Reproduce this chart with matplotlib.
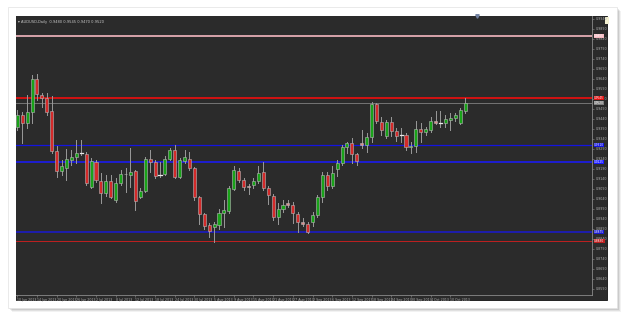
import matplotlib
matplotlib.use("Agg")
import matplotlib.pyplot as plt
from matplotlib.patches import Rectangle

# daily OHLC
opens = [0.9400, 0.9460, 0.9420, 0.9475, 0.9640, 0.9560, 0.9545, 0.9480, 0.9280, 0.9180,
         0.9195, 0.9235, 0.9250, 0.9270, 0.9265, 0.9100, 0.9225, 0.9130, 0.9070, 0.9130,
         0.9035, 0.9120, 0.9167, 0.9160, 0.9180, 0.9050, 0.9080, 0.9240, 0.9225, 0.9160,
         0.9165, 0.9240, 0.9285, 0.9150, 0.9230, 0.9240, 0.9195, 0.9050, 0.8965, 0.8910,
         0.8900, 0.8910, 0.8970, 0.8980, 0.9090, 0.9180, 0.9135, 0.9105, 0.9110, 0.9130,
         0.9175, 0.9095, 0.9055, 0.8950, 0.8990, 0.9020, 0.9010, 0.8965, 0.8925, 0.8915,
         0.8925, 0.8960, 0.9050, 0.9160, 0.9105, 0.9190, 0.9220, 0.9300, 0.9320, 0.9265,
         0.9320, 0.9310, 0.9350, 0.9515, 0.9425, 0.9355, 0.9425, 0.9380, 0.9360, 0.9360,
         0.9300, 0.9305, 0.9390, 0.9375, 0.9385, 0.9430, 0.9420, 0.9420, 0.9435, 0.9445,
         0.9420, 0.9480]
highs = [0.9485, 0.9475, 0.9560, 0.9660, 0.9665, 0.9570, 0.9570, 0.9555, 0.9305, 0.9235,
         0.9290, 0.9285, 0.9335, 0.9335, 0.9275, 0.9245, 0.9235, 0.9170, 0.9160, 0.9160,
         0.9145, 0.9185, 0.9195, 0.9295, 0.9185, 0.9095, 0.9250, 0.9285, 0.9235, 0.9225,
         0.9255, 0.9295, 0.9310, 0.9245, 0.9285, 0.9275, 0.9200, 0.9055, 0.8970, 0.8920,
         0.8925, 0.8990, 0.9035, 0.9105, 0.9205, 0.9195, 0.9145, 0.9115, 0.9145, 0.9205,
         0.9225, 0.9105, 0.9065, 0.9020, 0.9035, 0.9035, 0.9025, 0.8975, 0.8945, 0.8925,
         0.8975, 0.9060, 0.9175, 0.9175, 0.9205, 0.9235, 0.9310, 0.9325, 0.9345, 0.9270,
         0.9385, 0.9370, 0.9525, 0.9520, 0.9450, 0.9435, 0.9450, 0.9395, 0.9395, 0.9370,
         0.9325, 0.9430, 0.9420, 0.9400, 0.9450, 0.9480, 0.9480, 0.9460, 0.9470, 0.9470,
         0.9495, 0.9545]
lows = [0.9385, 0.9320, 0.9395, 0.9420, 0.9535, 0.9500, 0.9460, 0.9270, 0.9150, 0.9160,
        0.9135, 0.9210, 0.9220, 0.9260, 0.9110, 0.9095, 0.9125, 0.9020, 0.9055, 0.9045,
        0.9025, 0.9110, 0.9075, 0.9100, 0.8985, 0.9045, 0.9075, 0.9175, 0.9145, 0.9150,
        0.9160, 0.9235, 0.9145, 0.9145, 0.9220, 0.9185, 0.9035, 0.8915, 0.8890, 0.8850,
        0.8825, 0.8890, 0.8900, 0.8970, 0.9085, 0.9125, 0.9085, 0.9065, 0.9095, 0.9120,
        0.9085, 0.9015, 0.8935, 0.8915, 0.8975, 0.9000, 0.8920, 0.8875, 0.8905, 0.8870,
        0.8905, 0.8950, 0.9025, 0.9085, 0.9095, 0.9155, 0.9210, 0.9270, 0.9220, 0.9210,
        0.9295, 0.9275, 0.9325, 0.9420, 0.9360, 0.9345, 0.9355, 0.9330, 0.9325, 0.9285,
        0.9270, 0.9275, 0.9325, 0.9360, 0.9375, 0.9415, 0.9400, 0.9400, 0.9385, 0.9430,
        0.9415, 0.9470]
closes = [0.9460, 0.9420, 0.9475, 0.9640, 0.9565, 0.9545, 0.9475, 0.9280, 0.9180, 0.9205,
          0.9240, 0.9250, 0.9270, 0.9270, 0.9120, 0.9230, 0.9135, 0.9070, 0.9130, 0.9050,
          0.9120, 0.9165, 0.9163, 0.9175, 0.9030, 0.9080, 0.9240, 0.9225, 0.9155, 0.9160,
          0.9240, 0.9285, 0.9150, 0.9235, 0.9250, 0.9195, 0.9050, 0.8965, 0.8905, 0.8880,
          0.8915, 0.8970, 0.8985, 0.9095, 0.9185, 0.9135, 0.9100, 0.9100, 0.9130, 0.9170,
          0.9095, 0.9060, 0.8950, 0.8990, 0.9010, 0.9010, 0.8970, 0.8925, 0.8915, 0.8875,
          0.8960, 0.9050, 0.9160, 0.9105, 0.9170, 0.9220, 0.9300, 0.9320, 0.9265, 0.9230,
          0.9310, 0.9350, 0.9515, 0.9430, 0.9385, 0.9425, 0.9380, 0.9355, 0.9360, 0.9300,
          0.9305, 0.9390, 0.9375, 0.9390, 0.9430, 0.9420, 0.9420, 0.9440, 0.9445, 0.9460,
          0.9485, 0.9520]

date_labels = ["10 Jun 2013", "14 Jun 2013", "20 Jun 2013", "26 Jun 2013", "2 Jul 2013",
               "8 Jul 2013", "12 Jul 2013", "18 Jul 2013", "24 Jul 2013", "30 Jul 2013",
               "5 Aug 2013", "9 Aug 2013", "15 Aug 2013", "21 Aug 2013", "27 Aug 2013",
               "2 Sep 2013", "6 Sep 2013", "12 Sep 2013", "18 Sep 2013", "24 Sep 2013",
               "30 Sep 2013", "4 Oct 2013", "10 Oct 2013"]

# horizontal levels: (price, colour, width)
levels = [(0.9855, "#f4b8c0", 1.2),
          (0.9545, "#e01010", 1.3),
          (0.9520, "#808080", 0.6),
          (0.9310, "#1414e0", 0.9),
          (0.9225, "#1a1aff", 1.1),
          (0.8875, "#1a1ad0", 1.1),
          (0.8830, "#c02020", 0.7)]

W, H = 625, 317
fig = plt.figure(figsize=(W / 100, H / 100), dpi=100)
fig.patch.set_facecolor("white")


def px_rect(x0, y0, x1, y1, **kw):
    # rectangle in pixel coords (y from top), drawn below the axes
    r = Rectangle((x0 / W, 1 - y1 / H), (x1 - x0) / W, (y1 - y0) / H,
                  transform=fig.transFigure, zorder=-10, **kw)
    fig.patches.append(r)


# shadowed white frame
for i, a in enumerate([0.05, 0.07, 0.09, 0.12]):
    d = 4 - i
    px_rect(8 + d, 7 + d, 617 + d, 308 + d, facecolor="#000000", alpha=a, lw=0)
px_rect(8, 7, 617, 308, facecolor="white", edgecolor="#e6e6e6", lw=0.6)
# dark chart window
px_rect(16, 16, 607, 300, facecolor="#2b2b2b", edgecolor="#111111", lw=0.6)
px_rect(605, 17, 609, 24, facecolor="#f2efd0", lw=0)

ax = fig.add_axes([16 / W, 1 - 295 / H, (592 - 16) / W, (295 - 16) / H])
ax.set_facecolor("#2b2b2b")

n = len(opens)
xs = list(range(n))
bw = 0.62
for i in xs:
    o, h, l, c = opens[i], highs[i], lows[i], closes[i]
    ax.plot([i, i], [l, h], color="#9a9a9a", lw=0.7, zorder=2)
    if abs(c - o) < 0.00015:
        ax.plot([i - bw / 2, i + bw / 2], [o, o], color="#e8e8e8", lw=0.9, zorder=3)
        continue
    if c > o:
        fc = "#19a319"
    elif abs(c - o) < 0.0012:
        fc = "#e08a8a"
    else:
        fc = "#d42a2a"
    ax.add_patch(Rectangle((i - bw / 2, min(o, c)), bw, abs(c - o),
                           facecolor=fc, edgecolor="#b8b8b8", lw=0.4, zorder=3))

for price, col, lw in levels:
    ax.axhline(price, color=col, lw=lw, zorder=1)

ax.set_xlim(-0.26, 116.8)
ax.set_ylim(0.8560, 0.9955)

yt = [0.8590 + 0.005 * k for k in range(28)]
ax.yaxis.tick_right()
ax.set_yticks(yt)
ax.set_yticklabels([f"{v:.4f}" for v in yt], fontsize=2.3, color="#b0b0b0")
ax.tick_params(axis="y", length=1.5, width=0.4, color="#909090", pad=1.5)

ax.set_xticks(xs[::4][:len(date_labels)])
ax.set_xticklabels(date_labels, fontsize=2.3, color="#b0b0b0", ha="left")
ax.tick_params(axis="x", length=1.5, width=0.4, color="#909090", pad=0.8)

for s in ["top", "left"]:
    ax.spines[s].set_visible(False)
for s in ["right", "bottom"]:
    ax.spines[s].set_color("#8a8a8a")
    ax.spines[s].set_linewidth(0.6)

# coloured price tags on the price scale
for price, col, lw in levels:
    ax.annotate(f"{price:.4f}", xy=(1.0, price), xycoords=("axes fraction", "data"),
                xytext=(1.5, 0), textcoords="offset points", fontsize=2.1,
                color="white", va="center", ha="left",
                bbox=dict(boxstyle="square,pad=0.08", fc=col, ec="none"))

ax.text(0.004, 0.985, "\u25be AUDUSD,Daily  0.9480 0.9545 0.9470 0.9520",
        transform=ax.transAxes, fontsize=2.6, color="#c8c8c8", va="top", ha="left")
ax.plot([0.8], [1.0], marker="v", ms=2.5, color="#7080a0", transform=ax.transAxes,
        clip_on=False)

fig.savefig("out.png", dpi=100)
